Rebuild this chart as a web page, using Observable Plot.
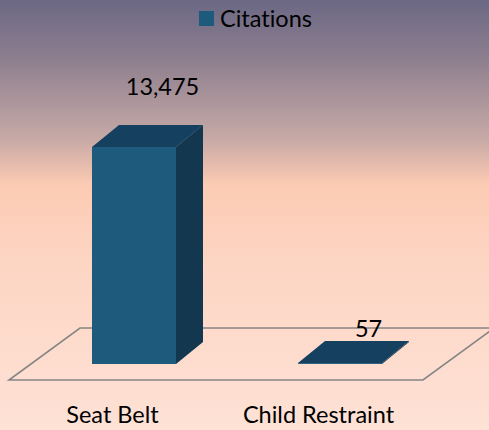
<!DOCTYPE html>
<html><head><meta charset="utf-8">
<script src="https://cdn.jsdelivr.net/npm/d3@7"></script>
<script src="https://cdn.jsdelivr.net/npm/@observablehq/plot@0.6"></script>
<style>
html,body{margin:0;padding:0;}
#chart{width:489px;height:430px;position:relative;overflow:hidden;font-family:Lato,sans-serif;color:#000;font-variant-ligatures:none;
background:linear-gradient(to bottom,#6b6884 0px,#8e7f8f 60px,#ab959b 100px,#c8aaa6 140px,#e6bcad 165px,#fccbb3 185px,#fdd5c3 260px,#fee2d6 430px);}
#chart svg text{font-variant-ligatures:none;}
.legend{height:36px;position:relative;}
.legend .sw{position:absolute;left:199px;top:11px;width:15px;height:15px;}
.legend .lb{position:absolute;left:220px;top:7px;font-size:23.5px;line-height:23px;white-space:nowrap;}
svg{display:block;}
</style>
</head><body>
<div id="chart"></div>
<script>
const categories = ["Seat Belt", "Child Restraint"];
const citations = [13475, 57];
const seriesName = "Citations";

const data = categories.map((c, i) => ({category: c, value: citations[i]}));
const frontColor = "#1e5a7c", topColor = "#154060", sideColor = "#12374f";
const depthX = 27, depthY = -22;

const chart = document.getElementById("chart");
const legend = document.createElement("div");
legend.className = "legend";
legend.innerHTML = `<div class="sw" style="background:${frontColor}"></div><div class="lb">${seriesName}</div>`;
chart.appendChild(legend);

const svgNS = "http://www.w3.org/2000/svg";
function poly(pts, fill, stroke, sw) {
  const p = document.createElementNS(svgNS, "polygon");
  p.setAttribute("points", pts.map(d => d.join(",")).join(" "));
  p.setAttribute("fill", fill);
  if (stroke) { p.setAttribute("stroke", stroke); p.setAttribute("stroke-width", sw); }
  return p;
}

const plot = Plot.plot({
  width: 489, height: 394,
  marginLeft: 31, marginRight: 46, marginTop: 111, marginBottom: 66,
  style: {background: "transparent", fontFamily: "Lato, sans-serif", fontSize: "23.5px", color: "#000", overflow: "visible"},
  x: {type: "band", domain: categories, paddingInner: 0.592, paddingOuter: 0.296, label: null},
  y: {domain: [0, d3.max(citations)], nice: false, axis: null},
  marks: [
    Plot.ruleY([0], {
      render: (index, scales, values, dims) => {
        const g = document.createElementNS(svgNS, "g");
        const y0 = scales.y(0);
        const left = dims.marginLeft - 22, right = dims.width - dims.marginRight - 20;
        g.appendChild(poly([[left, y0 + 16], [right, y0 + 16], [right + 71, y0 - 36], [left + 71, y0 - 36]], "none", "#858585", 1.6));
        return g;
      }
    }),
    Plot.barY(data, {
      x: "category", y: "value", fill: frontColor,
      render: (index, scales, values, dims, ctx, next) => {
        const g = next(index, scales, values, dims, ctx);
        g.querySelectorAll("rect").forEach(r => {
          const x = +r.getAttribute("x"), w = +r.getAttribute("width");
          const y = +r.getAttribute("y"), h = +r.getAttribute("height") || 0;
          g.appendChild(poly([[x + w, y], [x + w + depthX, y + depthY], [x + w + depthX, y + h + depthY], [x + w, y + h]], sideColor));
          g.appendChild(poly([[x, y], [x + w, y], [x + w + depthX, y + depthY], [x + depthX, y + depthY]], topColor));
        });
        return g;
      }
    }),
    Plot.text(data, {
      x: "category", y: "value", text: d => d3.format(",")(d.value),
      dx: 28, lineAnchor: "bottom", fontSize: 23.5, fill: "#000",
      render: (index, scales, values, dims, ctx, next) => {
        const y0 = scales.y(0);
        const y = Float64Array.from(values.y, v => v - 26 - 0.124 * (y0 - v));
        return next(index, scales, {...values, y}, dims, ctx);
      }
    }),
    Plot.axisX({tickSize: 0, tickPadding: 42, dx: -22, fontSize: 23.5, fill: "#000", label: null})
  ]
});
chart.appendChild(plot);
</script>
</body></html>
